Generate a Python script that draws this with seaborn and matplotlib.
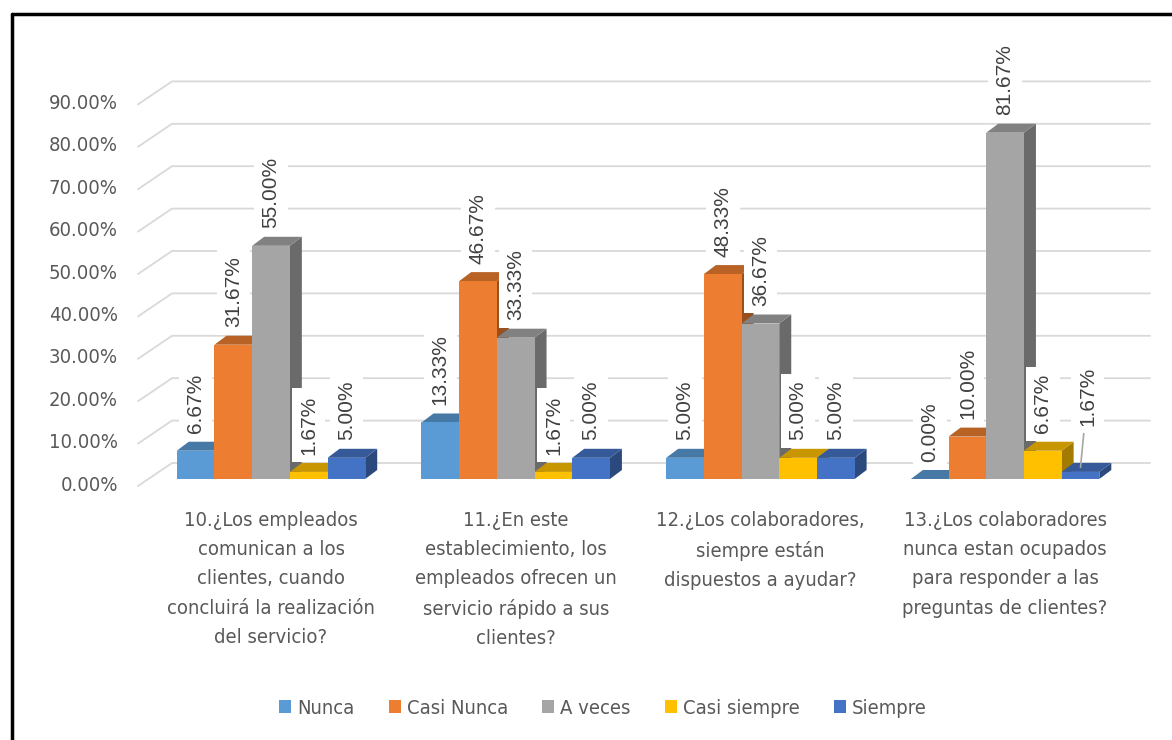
import matplotlib
matplotlib.use("Agg")
import matplotlib.pyplot as plt
import matplotlib.transforms as mtransforms
from matplotlib.patches import Polygon
from matplotlib.lines import Line2D
import pandas as pd
import seaborn as sns

# Datos de la encuesta (porcentajes)
preguntas = [
    "10.¿Los empleados\ncomunican a los\nclientes, cuando\nconcluirá la realización\ndel servicio?",
    "11.¿En este\nestablecimiento, los\nempleados ofrecen un\nservicio rápido a sus\nclientes?",
    "12.¿Los colaboradores,\nsiempre están\ndispuestos a ayudar?",
    "13.¿Los colaboradores\nnunca estan ocupados\npara responder a las\npreguntas de clientes?",
]
respuestas = ["Nunca", "Casi Nunca", "A veces", "Casi siempre", "Siempre"]
nunca = [6.67, 13.33, 5.00, 0.00]
casi_nunca = [31.67, 46.67, 48.33, 10.00]
a_veces = [55.00, 33.33, 36.67, 81.67]
casi_siempre = [1.67, 1.67, 5.00, 6.67]
siempre = [5.00, 5.00, 5.00, 1.67]
marcas_y = [0, 10, 20, 30, 40, 50, 60, 70, 80, 90]

colores = ["#5B9BD5", "#ED7D31", "#A5A5A5", "#FFC000", "#4472C4"]

series = [nunca, casi_nunca, a_veces, casi_siempre, siempre]
filas = []
for resp, vals in zip(respuestas, series):
    for preg, v in zip(preguntas, vals):
        filas.append({"pregunta": preg, "respuesta": resp, "valor": v})
df = pd.DataFrame(filas)

sns.set_style("white")
plt.rcParams["font.family"] = ["DejaVu Sans"]
plt.rcParams["font.stretch"] = "condensed"

W, H = 1172, 740
fig = plt.figure(figsize=(W / 100, H / 100), dpi=100)

# ejes: izquierda 138px, derecha 1150px, base 479px, 10% = 42.4px
izq, der, base = 138, 1150, 479
alto = 42.4 * 9
ax = fig.add_axes([izq / W, 1 - base / H, (der - izq) / W, alto / H])

sns.barplot(data=df, x="pregunta", y="valor", hue="respuesta",
            order=preguntas, hue_order=respuestas, palette=colores,
            saturation=1, width=0.77, edgecolor="none", linewidth=0, ax=ax)
handles, labels = ax.get_legend_handles_labels()
ax.get_legend().remove()

centro0 = 271
unidad = 244.7
ax.set_xlim(-(centro0 - izq) / unidad, -(centro0 - izq) / unidad + (der - izq) / unidad)
ax.set_ylim(0, 90)
ax.set_yticks([])
ax.set_xlabel("")
ax.set_ylabel("")
ax.tick_params(axis="x", length=0, pad=23, labelsize=14.5, labelcolor="#595959")
for t in ax.get_xticklabels():
    t.set_linespacing(1.68)
for s in ax.spines.values():
    s.set_visible(False)

# efecto 3D a partir de las barras dibujadas
sx = (ax.get_xlim()[1] - ax.get_xlim()[0]) / (der - izq)
sy = 90 / alto
ddx, ddy = 12 * sx, 9 * sy


def oscurecer(c, f):
    r, g, b = matplotlib.colors.to_rgb(c)
    return (r * f, g * f, b * f)


fuente_etq = dict(fontsize=15, color="#404040", family=["Liberation Sans", "DejaVu Sans"],
                  fontstretch="normal")
k = 0
for i in range(len(preguntas)):
    for j in range(len(respuestas)):
        p = ax.containers[j][i]
        p.set_zorder(3)
        x0, w, h = p.get_x(), p.get_width(), p.get_height()
        lado = Polygon([(x0 + w, 0), (x0 + w + ddx, ddy), (x0 + w + ddx, h + ddy), (x0 + w, h)],
                       closed=True, facecolor=oscurecer(colores[j], 0.64), edgecolor="none",
                       zorder=2 + k * 0.001)
        tapa = Polygon([(x0, h), (x0 + w, h), (x0 + w + ddx, h + ddy), (x0 + ddx, h + ddy)],
                       closed=True, facecolor=oscurecer(colores[j], 0.78), edgecolor="none",
                       zorder=2 + k * 0.001 + 0.0005)
        ax.add_patch(lado)
        ax.add_patch(tapa)
        k += 1

        caja = dict(boxstyle="square,pad=0.35", facecolor="white", edgecolor="none")
        if i == 3 and j == 4:
            ax.annotate(f"{h:.2f}%", xy=(x0 + w / 2, h + ddy / 2), xytext=(5, 30),
                        textcoords="offset points", rotation=90, ha="center", va="bottom",
                        bbox=caja, zorder=4, **fuente_etq,
                        arrowprops=dict(arrowstyle="-", color="#A6A6A6", lw=1.2,
                                        shrinkA=0, shrinkB=0))
        else:
            ax.annotate(f"{h:.2f}%", xy=(x0 + w / 2, h + ddy), xytext=(0, 6),
                        textcoords="offset points", rotation=90, ha="center", va="bottom",
                        bbox=caja, zorder=4, **fuente_etq)

# líneas de cuadrícula en perspectiva y etiquetas del eje y
fig.canvas.draw()
tr = mtransforms.blended_transform_factory(ax.transAxes, ax.transData)
ident = mtransforms.IdentityTransform()
for v in marcas_y:
    fx, fy = tr.transform((0, v))
    rx, _ = tr.transform((1, v))
    xs = [fx, fx + 34, rx]
    ys = [fy - 7, fy + 16, fy + 16]
    ax.add_line(Line2D(xs, ys, transform=ident, color="#D9D9D9", lw=1.3,
                       zorder=0.5, clip_on=False))
    ax.text(fx - 20, fy - 6, f"{v:.2f}%", transform=ident, ha="right", va="center",
            fontsize=14.5, color="#595959", clip_on=False)

fig.legend(handles, labels, loc="center", bbox_to_anchor=(603 / W, 1 - 708 / H),
           ncol=5, frameon=False, fontsize=14.5, labelcolor="#595959",
           handlelength=0.6, handleheight=0.6, handletextpad=0.3, columnspacing=1.7)

# marco
fig.add_artist(Line2D([12 / W, 12 / W], [0, 1 - 14 / H], transform=fig.transFigure,
                      color="black", lw=2.5))
fig.add_artist(Line2D([12 / W, 1], [1 - 14 / H, 1 - 14 / H], transform=fig.transFigure,
                      color="black", lw=2.5))

fig.savefig("out.png", dpi=100)
